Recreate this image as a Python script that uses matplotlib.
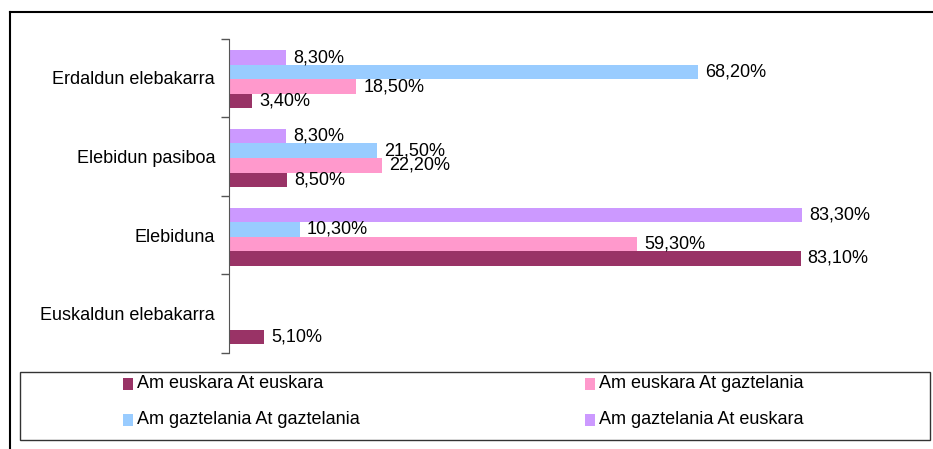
import numpy as np
import matplotlib as mpl
mpl.use('Agg')
import matplotlib.pyplot as plt
from matplotlib.patches import Rectangle
from matplotlib.lines import Line2D

plt.rcParams['font.family'] = ['Liberation Sans', 'DejaVu Sans']

categories = ['Erdaldun elebakarra', 'Elebidun pasiboa', 'Elebiduna', 'Euskaldun elebakarra']
series = ['Am euskara At euskara', 'Am euskara At gaztelania',
          'Am gaztelania At gaztelania', 'Am gaztelania At euskara']
colors = ['#993366', '#FF99CC', '#99CCFF', '#CC99FF']

eus_eus = [3.4, 8.5, 83.1, 5.1]
eus_gaz = [18.5, 22.2, 59.3, 0.0]
gaz_gaz = [68.2, 21.5, 10.3, 0.0]
gaz_eus = [8.3, 8.3, 83.3, 0.0]
values = [eus_eus, eus_gaz, gaz_gaz, gaz_eus]

fig = plt.figure(figsize=(9.33, 4.49), dpi=100)
ax = fig.add_axes([229/933, 1-353/449, 688/933, 314.5/449])

n = len(categories)
ypos = np.arange(n)[::-1]  # first category on top
h = 0.185
shift = -0.02
for i, (vals, col) in enumerate(zip(values, colors)):
    y = ypos - (1.5 - i) * h + shift
    ax.barh(y, vals, height=h, color=col, linewidth=0)
    for yy, v in zip(y, vals):
        if v > 0:
            ax.annotate(f'{v:.2f}'.replace('.', ',') + '%', (v, yy),
                        xytext=(5, 0), textcoords='offset points',
                        va='center', ha='left', fontsize=13)

ax.set_xlim(0, 100)
ax.set_ylim(-0.5, n - 0.5)
ax.set_xticks([])
ax.set_yticks(ypos)
ax.set_yticklabels(categories, fontsize=13)
ax.tick_params(axis='y', which='major', length=0, pad=10)
ax.set_yticks(np.arange(-0.5, n), minor=True)
ax.tick_params(axis='y', which='minor', length=6, width=1, color='#555555', direction='out')
for s in ['top', 'right', 'bottom']:
    ax.spines[s].set_visible(False)
ax.spines['left'].set_color('#555555')

# outer frame (left and top only)
fig.add_artist(Line2D([10/933, 10/933], [0, 1-12/449], transform=fig.transFigure,
                      color='black', lw=1.5))
fig.add_artist(Line2D([10/933, 1], [1-12/449, 1-12/449], transform=fig.transFigure,
                      color='black', lw=1.5))

# legend box
fig.add_artist(Rectangle((20/933, 1-440/449), 910/933, 68/449, transform=fig.transFigure,
                         fill=False, edgecolor='#333333', lw=1))
leg_x = [128, 590, 128, 590]
leg_y = [384, 384, 420, 420]
for name, col, lx, ly in zip(series, colors, leg_x, leg_y):
    fig.add_artist(Rectangle(((lx-5)/933, 1-(ly+6)/449), 10/933, 12/449,
                             transform=fig.transFigure, color=col, lw=0))
    fig.text((lx+9)/933, 1-ly/449, name, fontsize=13, va='center', ha='left')

fig.savefig('out.png', dpi=100)
